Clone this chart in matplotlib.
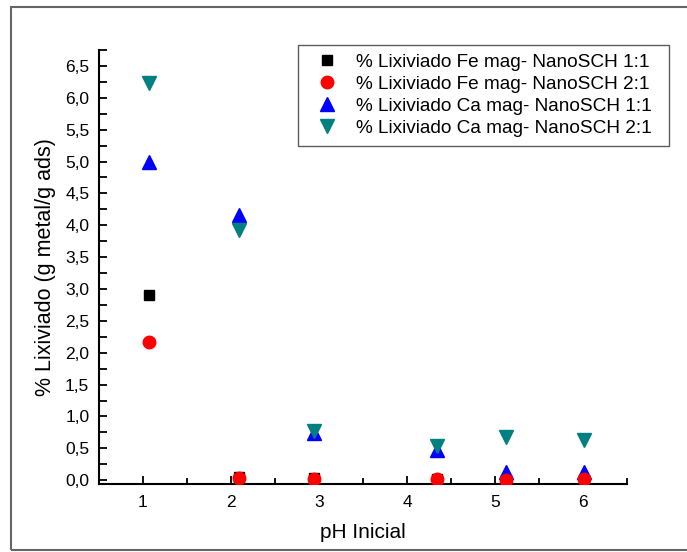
import matplotlib.pyplot as plt
from matplotlib.ticker import MultipleLocator, FuncFormatter
from matplotlib.patches import Rectangle

# pH inicial (x) for each series
ph_fe11 = [1.07, 2.09, 2.94, 4.34, 5.12, 6.01]
ph_fe21 = [1.07, 2.09, 2.94, 4.34, 5.12, 6.01]
ph_ca11 = [1.07, 2.09, 2.94, 4.34, 5.12, 6.01]
ph_ca21 = [1.07, 2.09, 2.94, 4.34, 5.12, 6.01]

# % lixiviado (g metal / g ads)
fe11 = [2.91, 0.05, 0.03, 0.02, 0.01, 0.01]
fe21 = [2.17, 0.03, 0.02, 0.02, 0.01, 0.02]
ca11 = [5.00, 4.16, 0.74, 0.48, 0.13, 0.13]
ca21 = [6.23, 3.92, 0.77, 0.53, 0.68, 0.63]

labels = ['% Lixiviado Fe mag- NanoSCH 1:1',
          '% Lixiviado Fe mag- NanoSCH 2:1',
          '% Lixiviado Ca mag- NanoSCH 1:1',
          '% Lixiviado Ca mag- NanoSCH 2:1']

plt.rcParams['font.family'] = ['Liberation Sans', 'DejaVu Sans']

fig = plt.figure(figsize=(6.87, 5.52), dpi=100)
ax = fig.add_axes([0.1441, 0.1232, 0.7686, 0.7862])

ax.plot(ph_fe11, fe11, 's', color='black', ms=7.5, label=labels[0], zorder=3)
ax.plot(ph_fe21, fe21, 'o', color='red', ms=9, label=labels[1], zorder=4)
ax.plot(ph_ca11, ca11, '^', color='blue', ms=9.5, label=labels[2], zorder=3)
ax.plot(ph_ca21, ca21, 'v', color='#008080', ms=9.5, label=labels[3], zorder=3)

ax.set_xlim(0.5, 6.5)
ax.set_ylim(-0.06, 6.75)
ax.xaxis.set_major_locator(MultipleLocator(1))
ax.xaxis.set_minor_locator(MultipleLocator(0.5))
ax.yaxis.set_major_locator(MultipleLocator(0.5))
ax.yaxis.set_minor_locator(MultipleLocator(0.25))
ax.yaxis.set_major_formatter(FuncFormatter(lambda v, p: f'{v:.1f}'.replace('.', ',')))

for s in ['top', 'right']:
    ax.spines[s].set_visible(False)
for s in ['left', 'bottom']:
    ax.spines[s].set_linewidth(1.5)

ax.tick_params(which='both', direction='in', width=1.3, labelsize=12.5)
ax.tick_params(axis='x', which='major', length=6, pad=8)
ax.tick_params(axis='x', which='minor', length=4)
ax.tick_params(axis='y', which='both', length=5.5, pad=7)

ax.set_xlabel('pH Inicial', fontsize=15)
ax.set_ylabel('% Lixiviado (g metal/g ads)', fontsize=15.5)
ax.xaxis.set_label_coords(0.5, -0.09)
ax.yaxis.set_label_coords(-0.081, 0.5)

leg = ax.legend(loc='upper left', bbox_to_anchor=(298 / 687, 1 - 142 / 552, 371 / 687, 97 / 552),
                bbox_transform=fig.transFigure, mode='expand', fontsize=13.7,
                frameon=True, fancybox=False, handletextpad=0.4, labelspacing=0.25,
                borderpad=0.45, handlelength=2.2, borderaxespad=0)
leg.get_frame().set_edgecolor('#333333')
leg.get_frame().set_linewidth(1.0)

fig.patches.append(Rectangle((11 / 687, 1 - 550 / 552), 1.0, (550 - 7) / 552,
                             transform=fig.transFigure, fill=False,
                             edgecolor='#666666', linewidth=1.5))

fig.savefig('out.png', dpi=100)
